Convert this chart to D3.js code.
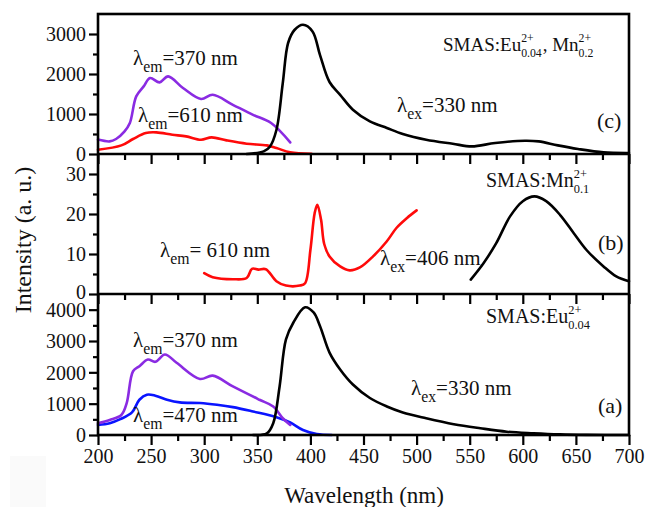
<!DOCTYPE html>
<html><head><meta charset="utf-8">
<script src="https://cdn.jsdelivr.net/npm/d3@7"></script>
</head>
<body style="margin:0">
<svg id="chart" width="649" height="507"></svg>
<script>
// ---------- DATA ----------
// x ticks
const xMajorTicks = [200,250,300,350,400,450,500,550,600,650,700];
const xMinorTicks = [225,275,325,375,425,475,525,575,625,675];
// y ticks per panel
const cYTicks = [0,1000,2000,3000];
const cYMinor = [500,1500,2500,3500];
const bYTicks = [0,10,20,30];
const bYMinor = [5,15,25,35];
const aYTicks = [0,1000,2000,3000,4000];
const aYMinor = [500,1500,2500,3500,4500];

// Panel (c) SMAS:Eu0.04, Mn0.2
const cExc370 = [[200,360],[211,315],[217,375],[225,565],[230,775],[236,1440],[243,1690],[249,1900],[258,1790],[266,1940],[280,1650],[297,1375],[308,1480],[327,1230],[346,980],[363,775],[381,290]];
const cExc610 = [[200,107],[222,215],[233,375],[245,525],[255,540],[270,482],[283,440],[297,357],[307,415],[321,340],[340,257],[359,215],[368,150],[381,40],[401,8]];
const cEm330 = [[340,0],[356,65],[362,190],[368,600],[374,1775],[379,2775],[385,3100],[393,3230],[402,3065],[409,2480],[418,1800],[428,1480],[440,1108],[456,815],[472,650],[487,500],[509,357],[534,257],[552,190],[574,275],[602,332],[615,315],[633,215],[652,125],[676,40],[700,25]];

// Panel (b) SMAS:Mn0.1
const bExc610 = [[300,5.2],[308,4.2],[327,3.7],[340,4.0],[345,6.3],[351,6.1],[358,6.2],[368,3.2],[377,2.1],[390,2.1],[395,2.7],[400,11],[404,20.2],[406.5,22.3],[410,18.6],[413,12.5],[418,9.4],[428,6.9],[437,5.9],[447,6.7],[459,9.4],[472,13.2],[481,16.5],[491,19],[500,20.9]];
const bEm406 = [[551,3.6],[563,7.7],[575,12.7],[588,19.4],[600,23.2],[611,24.4],[622,23.2],[635,19.8],[648,15.2],[660,11],[676,6.9],[688,4.4],[700,3.2]];

// Panel (a) SMAS:Eu0.04
const aExc370 = [[200,375],[211,480],[222,640],[227,1015],[233,2035],[239,2195],[247,2410],[254,2335],[263,2570],[274,2305],[296,1790],[308,1895],[327,1550],[352,1125],[365,910],[374,535],[381,320]];
const aExc470 = [[200,320],[211,375],[221,505],[232,720],[239,1125],[246,1286],[254,1255],[265,1125],[277,1040],[296,1020],[312,965],[327,890],[346,750],[368,570],[381,400],[393,160],[406,30],[420,0]];
const aEm330 = [[346,0],[359,50],[365,375],[371,1550],[377,3050],[384,3590],[395,4075],[403,3910],[409,3480],[418,2630],[428,2090],[440,1610],[456,1180],[472,910],[487,720],[509,535],[535,345],[560,215],[585,105],[610,55],[635,20],[660,5],[700,0]];

// ---------- LAYOUT ----------
const FONTNAME = "Liberation Serif";
const FONT = `"${FONTNAME}"`;
// warm up the font
const ctx = document.createElement("canvas").getContext("2d");
[14,20,23].forEach(s=>{ ctx.font = `${s}px "${FONTNAME}"`; ctx.measureText("Wavelength λ 0123456789"); });

const svg = d3.select("#chart");
const L = 98, R = 629;
const x = d3.scaleLinear([200,700],[L,R]);
const panels = [
  {key:"c", y:d3.scaleLinear([0,3500],[154,14]), ticks:cYTicks, minor:cYMinor},
  {key:"b", y:d3.scaleLinear([0,35],[294,154]), ticks:bYTicks, minor:bYMinor},
  {key:"a", y:d3.scaleLinear([0,4500],[435,294]), ticks:aYTicks, minor:aYMinor}
];
const P = Object.fromEntries(panels.map(p=>[p.key,p]));

// faint scan artifact
svg.append("rect").attr("x",10).attr("y",456).attr("width",36).attr("height",51).attr("fill","#fafafa");

const lineGen = y => d3.line().x(d=>x(d[0])).y(d=>y(d[1])).curve(d3.curveCatmullRom.alpha(0.5));
function drawSeries(data, p, color){
  svg.append("path").datum(data).attr("d", lineGen(p.y)).attr("fill","none")
    .attr("stroke",color).attr("stroke-width",2.6).attr("stroke-linejoin","round").attr("stroke-linecap","round");
}
drawSeries(cExc610, P.c, "#ff0a0a");
drawSeries(cExc370, P.c, "#8a2be2");
drawSeries(cEm330, P.c, "#000");
drawSeries(bExc610, P.b, "#ff0a0a");
drawSeries(bEm406, P.b, "#000");
drawSeries(aExc470, P.a, "#0a14ff");
drawSeries(aExc370, P.a, "#8a2be2");
drawSeries(aEm330, P.a, "#000");

// axes
panels.forEach((p,i)=>{
  const y0 = p.y.range()[0];
  const gx = svg.append("g").attr("transform",`translate(0,${y0})`);
  gx.call(d3.axisBottom(x).tickValues(xMajorTicks).tickSize(10).tickSizeOuter(0)
      .tickFormat(i===2 ? d3.format("d") : ()=>""));
  const gxm = svg.append("g").attr("transform",`translate(0,${y0})`);
  gxm.call(d3.axisBottom(x).tickValues(xMinorTicks).tickSize(6).tickSizeOuter(0).tickFormat(()=>""));
  const gy = svg.append("g").attr("transform",`translate(${L},0)`);
  gy.call(d3.axisLeft(p.y).tickValues(p.ticks).tickSize(9).tickSizeOuter(0).tickPadding(3).tickFormat(d3.format("d")));
  const gym = svg.append("g").attr("transform",`translate(${L},0)`);
  gym.call(d3.axisLeft(p.y).tickValues(p.minor.filter(v=>v<p.y.domain()[1])).tickSize(5).tickSizeOuter(0).tickFormat(()=>""));
  [gx,gxm,gy,gym].forEach(g=>{
    g.style("font-family",FONT);
    g.select(".domain").remove();
    g.selectAll(".tick line").attr("stroke","#000").attr("stroke-width",2.2);
    g.selectAll(".tick text").style("font-family",FONT).attr("font-size",20).attr("fill","#111");
  });
  gx.selectAll(".tick text").attr("dy","0.71em").attr("y",14);
  gy.selectAll(".tick text").attr("dy","0.34em");
  if(p.key==="b") gy.selectAll(".tick text").filter(d=>d===0).attr("dy","0.2em");
});

// frame
const frame = svg.append("g").attr("stroke","#000").attr("stroke-width",2.6).attr("fill","none");
frame.append("rect").attr("x",L).attr("y",14).attr("width",R-L).attr("height",435-14);
frame.append("line").attr("x1",L).attr("x2",R).attr("y1",154).attr("y2",154);
frame.append("line").attr("x1",L).attr("x2",R).attr("y1",294).attr("y2",294);

// axis titles
svg.append("text").attr("x",364).attr("y",503).attr("text-anchor","middle").style("font-family",FONT)
  .attr("font-size",23).attr("fill","#111").text("Wavelength (nm)");
svg.append("text").attr("transform","translate(31,240) rotate(-90)").attr("text-anchor","middle").style("font-family",FONT)
  .attr("font-size",24).attr("fill","#111").text("Intensity (a. u.)");

// rich text helper
function rich(x0, y0, parts, size){
  const g = svg.append("g").attr("fill","#111");
  let cx = x0;
  const put = (t,xx,yy,fs)=>{
    ctx.font = `${fs}px "${FONTNAME}"`;
    g.append("text").attr("x",xx).attr("y",yy).style("font-family",FONT).attr("font-size",fs).text(t);
    return ctx.measureText(t).width;
  };
  parts.forEach(pt=>{
    if(pt.t!==undefined){ cx += put(pt.t,cx,y0,size); }
    else if(pt.sub!==undefined && pt.sup===undefined){ cx += put(pt.sub,cx,y0+7,size*0.75); }
    else { const w1 = put(pt.sup,cx,y0-9,size*0.62); const w2 = put(pt.sub,cx,y0+6,size*0.62); cx += Math.max(w1,w2)+1; }
  });
}
const em = (t)=>[{t:"λ"},{sub:"em"},{t:t}];
const ex = (t)=>[{t:"λ"},{sub:"ex"},{t:t}];
// panel c
rich(133,65,em("=370 nm"),21);
rich(138,122,em("=610 nm"),21);
rich(397,112,ex("=330 nm"),21);
rich(443,51,[{t:"SMAS:Eu"},{sup:"2+",sub:"0.04"},{t:", Mn"},{sup:"2+",sub:"0.2"}],19);
rich(597,128,[{t:"(c)"}],22);
// panel b
rich(160,257,em("= 610 nm"),21);
rich(380,265,ex("=406 nm"),21);
rich(486,187,[{t:"SMAS:Mn"},{sup:"2+",sub:"0.1"}],20);
rich(598,250,[{t:"(b)"}],22);
// panel a
rich(133,347,em("=370 nm"),21);
rich(133,422,em("=470 nm"),21);
rich(411,395,ex("=330 nm"),21);
rich(486,323,[{t:"SMAS:Eu"},{sup:"2+",sub:"0.04"}],20);
rich(598,413,[{t:"(a)"}],22);
</script></body></html>
